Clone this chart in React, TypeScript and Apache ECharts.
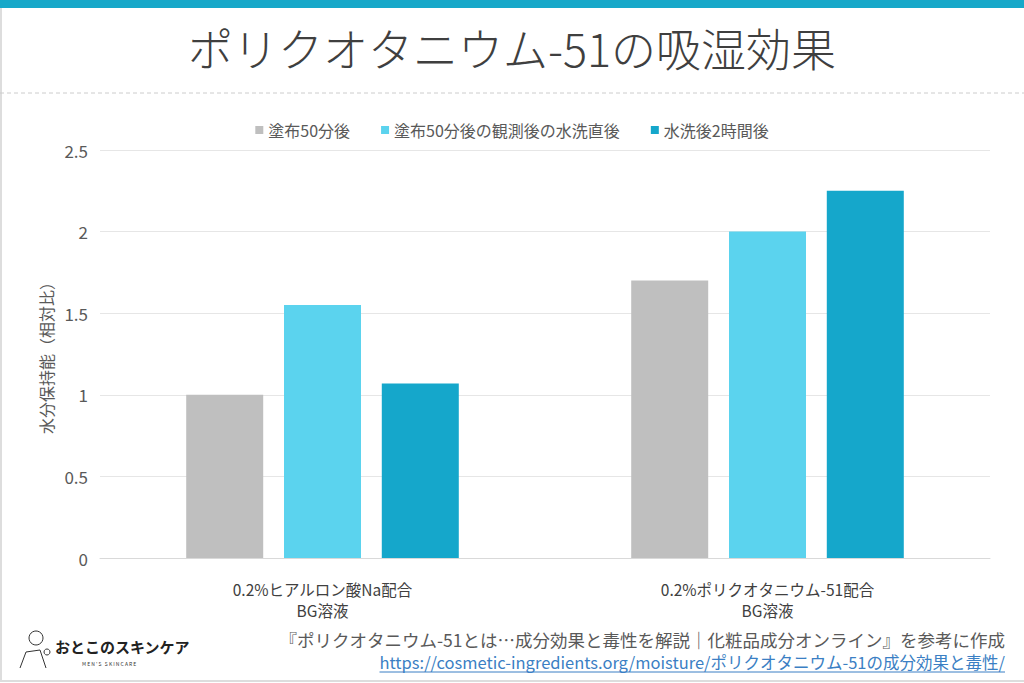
import React, { useEffect, useRef } from "react";
import * as echarts from "echarts";

const categories = ["0.2%ヒアルロン酸Na配合\nBG溶液", "0.2%ポリクオタニウム-51配合\nBG溶液"];
const seriesNames = ["塗布50分後", "塗布50分後の観測後の水洗直後", "水洗後2時間後"];
const after50 = [1.0, 1.7];
const afterRinse = [1.55, 2.0];
const after2h = [1.07, 2.25];
const colors = ["#bfbfbf", "#5bd3ee", "#15a7cb"];
const titleText = "ポリクオタニウム-51の吸湿効果";
const yAxisName = "水分保持能（相対比）";
const sourceText = "『ポリクオタニウム-51とは…成分効果と毒性を解説｜化粧品成分オンライン』を参考に作成";
const sourceUrl = "https://cosmetic-ingredients.org/moisture/ポリクオタニウム-51の成分効果と毒性/";

const FONT = "'Noto Sans CJK JP', 'Noto Sans', sans-serif";

function measure(text: string, font: string): number {
  const c = document.createElement("canvas").getContext("2d");
  if (!c) return text.length * 10;
  c.font = font;
  return c.measureText(text).width;
}

export default function App() {
  const ref = useRef<HTMLDivElement>(null);
  useEffect(() => {
    if (!ref.current) return;
    const chart = echarts.init(ref.current, null, { renderer: "svg" });
    const values = [after50, afterRinse, after2h];
    const urlFont = `16.5px ${FONT}`;
    const urlW = measure(sourceUrl, urlFont);
    chart.setOption({
      animation: false,
      backgroundColor: "#ffffff",
      textStyle: { fontFamily: FONT },
      title: {
        text: titleText,
        left: "center",
        top: 20,
        textStyle: { fontSize: 45, fontWeight: 300, color: "#3f3f3f", fontFamily: FONT },
      },
      legend: {
        top: 117,
        left: "center",
        icon: "rect",
        itemWidth: 8,
        itemHeight: 8,
        itemGap: 31,
        textStyle: { fontSize: 16, color: "#595959", fontFamily: FONT },
        data: seriesNames,
      },
      grid: { left: 100, right: 34, top: 150, bottom: 125 },
      xAxis: {
        type: "category",
        data: categories,
        axisLine: { lineStyle: { color: "#d9d9d9" } },
        axisTick: { show: false },
        axisLabel: { fontSize: 15.5, color: "#404040", lineHeight: 21, margin: 20, fontFamily: FONT },
      },
      yAxis: {
        type: "value",
        min: 0,
        max: 2.5,
        interval: 0.5,
        name: yAxisName,
        nameLocation: "middle",
        nameGap: 43,
        nameTextStyle: { fontSize: 16, color: "#595959", fontFamily: FONT },
        axisLine: { show: false },
        axisTick: { show: false },
        splitLine: { lineStyle: { color: "#e6e6e6" } },
        axisLabel: { fontSize: 17, color: "#595959", margin: 12, fontFamily: FONT },
      },
      series: seriesNames.map((name, i) => ({
        name,
        type: "bar",
        data: values[i],
        barWidth: 77,
        barGap: "27%",
        itemStyle: { color: colors[i] },
      })),
      graphic: [
        { type: "rect", left: 0, top: 0, shape: { width: 1024, height: 8 }, style: { fill: "#17a8c9" } },
        { type: "line", shape: { x1: 1, y1: 8, x2: 1, y2: 681 }, style: { stroke: "#dddddd", lineWidth: 2 } },
        { type: "line", shape: { x1: 0, y1: 681, x2: 1024, y2: 681 }, style: { stroke: "#dddddd", lineWidth: 2 } },
        { type: "line", shape: { x1: 0, y1: 93, x2: 1024, y2: 93 }, style: { stroke: "#cccccc", lineWidth: 1, lineDash: [4, 3] } },
        {
          type: "text",
          x: 1005,
          y: 639,
          style: { text: sourceText, fill: "#595959", font: `17.5px ${FONT}`, textAlign: "right", textVerticalAlign: "middle" },
        },
        {
          type: "text",
          x: 1005,
          y: 662,
          style: { text: sourceUrl, fill: "#3b7fc4", font: urlFont, textAlign: "right", textVerticalAlign: "middle" },
        },
        { type: "line", shape: { x1: 1005 - urlW, y1: 672, x2: 1005, y2: 672 }, style: { stroke: "#3b7fc4", lineWidth: 1 } },
        {
          type: "text",
          x: 55,
          y: 646,
          style: { text: "おとこのスキンケア", fill: "#222222", font: `bold 15px ${FONT}`, textVerticalAlign: "middle" },
        },
        {
          type: "text",
          x: 82,
          y: 663,
          style: { text: "M E N ' S   S K I N C A R E", fill: "#333333", font: `5px ${FONT}`, textVerticalAlign: "middle" },
        },
        { type: "circle", shape: { cx: 36, cy: 638, r: 7 }, style: { fill: "none", stroke: "#333", lineWidth: 1 } },
        { type: "polyline", shape: { points: [[20, 668], [26, 652], [40, 650], [46, 668]] }, style: { fill: "none", stroke: "#333", lineWidth: 1 } },
        { type: "circle", shape: { cx: 47, cy: 652, r: 3 }, style: { fill: "none", stroke: "#333", lineWidth: 1 } },
      ],
    });
    return () => chart.dispose();
  }, []);
  return <div ref={ref} style={{ position: "absolute", left: 0, top: 0, width: 1024, height: 683 }} />;
}
